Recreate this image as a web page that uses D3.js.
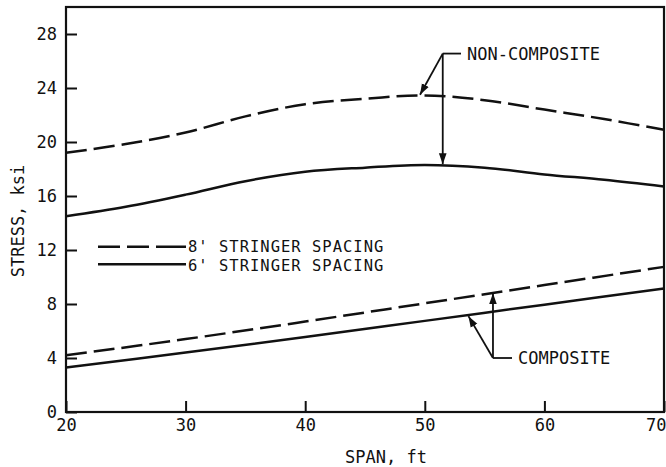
<!DOCTYPE html>
<html>
<head>
<meta charset="utf-8">
<script src="https://cdn.jsdelivr.net/npm/d3@7"></script>
<style>
  body { margin: 0; background: #fff; }
  svg { display: block; }
  text { font-family: "DejaVu Sans Mono", monospace; fill: #111; }
</style>
</head>
<body>
<div id="chart"></div>
<script>
// span values (ft) and stresses (ksi)
var spanNC = [20, 25, 30, 35, 40, 45, 50, 55, 60, 65, 70];
var nonComposite8 = [19.2, 19.85, 20.7, 21.9, 22.8, 23.2, 23.45, 23.1, 22.4, 21.7, 20.9];
var nonComposite6 = [14.5, 15.2, 16.1, 17.1, 17.8, 18.1, 18.3, 18.1, 17.6, 17.2, 16.7];

var spanC = [20, 30, 40, 50, 60, 70];
var composite8 = [4.2, 5.4, 6.7, 8.05, 9.4, 10.75];
var composite6 = [3.3, 4.4, 5.55, 6.75, 7.95, 9.15];

var xTicks = [20, 30, 40, 50, 60, 70];
var yTicks = [0, 4, 8, 12, 16, 20, 24, 28];

var legendLabels = ["8' STRINGER SPACING", "6' STRINGER SPACING"];

var W = 666, H = 467;
var margin = {top: 7, right: 2, bottom: 55, left: 66};

var svg = d3.select("#chart").append("svg")
    .attr("width", W)
    .attr("height", H);

var x = d3.scaleLinear().domain([20, 70]).range([margin.left, W - margin.right]);
var y = d3.scaleLinear().domain([0, 30]).range([H - margin.bottom, margin.top]);

// arrow heads
svg.append("defs").append("marker")
    .attr("id", "arrow")
    .attr("viewBox", "0 0 10 10")
    .attr("refX", 10).attr("refY", 5)
    .attr("markerWidth", 11).attr("markerHeight", 11)
    .attr("markerUnits", "userSpaceOnUse")
    .attr("orient", "auto")
    .append("path")
    .attr("d", "M0,1.5 L10,5 L0,8.5 Z")
    .attr("fill", "#111");

// axes with inward ticks
var xAxis = d3.axisBottom(x).tickValues(xTicks).tickSize(-11).tickSizeOuter(0).tickPadding(7);
var yAxis = d3.axisLeft(y).tickValues(yTicks).tickSize(-11).tickSizeOuter(0).tickPadding(9);

var gx = svg.append("g")
    .attr("transform", "translate(0," + y(0) + ")")
    .call(xAxis);
var gy = svg.append("g")
    .attr("transform", "translate(" + x(20) + ",0)")
    .call(yAxis);

[gx, gy].forEach(function (g) {
    g.select(".domain").remove();
    g.selectAll(".tick line").attr("stroke", "#111").attr("stroke-width", 2);
    g.selectAll(".tick text").style("font-size", "17px").attr("fill", "#111");
});
// last span label sits against the right edge
gx.selectAll(".tick text")
    .filter(function (d) { return d === 70; })
    .attr("text-anchor", "end")
    .attr("x", 2);

// frame
svg.append("rect")
    .attr("x", x(20)).attr("y", y(30))
    .attr("width", x(70) - x(20))
    .attr("height", y(0) - y(30))
    .attr("fill", "none")
    .attr("stroke", "#111")
    .attr("stroke-width", 2.2);

// curves
var line = d3.line()
    .x(function (d) { return x(d[0]); })
    .y(function (d) { return y(d[1]); })
    .curve(d3.curveCatmullRom.alpha(0.5));

var series = [
    {xs: spanNC, ys: nonComposite8, dash: "21,7"},
    {xs: spanNC, ys: nonComposite6, dash: null},
    {xs: spanC, ys: composite8, dash: "21,7"},
    {xs: spanC, ys: composite6, dash: null}
];

series.forEach(function (s) {
    svg.append("path")
        .datum(d3.zip(s.xs, s.ys))
        .attr("d", line)
        .attr("fill", "none")
        .attr("stroke", "#111")
        .attr("stroke-width", 2.5)
        .attr("stroke-dasharray", s.dash);
});

// legend
var legend = svg.append("g");
[246.7, 264.3].forEach(function (ly, i) {
    legend.append("line")
        .attr("x1", 98).attr("x2", 186)
        .attr("y1", ly).attr("y2", ly)
        .attr("stroke", "#111")
        .attr("stroke-width", 2.5)
        .attr("stroke-dasharray", i === 0 ? "22,7,22,7,30" : null);
    legend.append("text")
        .attr("x", 188)
        .attr("y", ly + (i === 0 ? 5 : 7))
        .style("font-size", "15.5px")
        .style("letter-spacing", "1px")
        .text(legendLabels[i]);
});

// annotations
function leader(corner, tips, labelX, label) {
    var cx = x(corner[0]), cy = y(corner[1]);
    tips.forEach(function (t) {
        svg.append("line")
            .attr("x1", cx).attr("y1", cy)
            .attr("x2", x(t[0])).attr("y2", y(t[1]))
            .attr("stroke", "#111")
            .attr("stroke-width", 1.8)
            .attr("marker-end", "url(#arrow)");
    });
    svg.append("line")
        .attr("x1", cx).attr("y1", cy)
        .attr("x2", labelX - 6).attr("y2", cy)
        .attr("stroke", "#111")
        .attr("stroke-width", 1.8);
    svg.append("text")
        .attr("x", labelX)
        .attr("y", cy + 6)
        .style("font-size", "17px")
        .text(label);
}

leader([51.5, 26.55], [[51.5, 18.35], [49.6, 23.5]], 467, "NON-COMPOSITE");
leader([55.7, 4.0], [[55.7, 8.8], [53.65, 7.1]], 518, "COMPOSITE");

// axis titles
svg.append("text")
    .attr("x", (x(20) + x(70)) / 2 + 21)
    .attr("y", 463)
    .attr("text-anchor", "middle")
    .style("font-size", "17px")
    .text("SPAN, ft");

svg.append("text")
    .attr("transform", "translate(24,221) rotate(-90)")
    .attr("text-anchor", "middle")
    .style("font-size", "17px")
    .text("STRESS, ksi");
</script>
</body>
</html>
